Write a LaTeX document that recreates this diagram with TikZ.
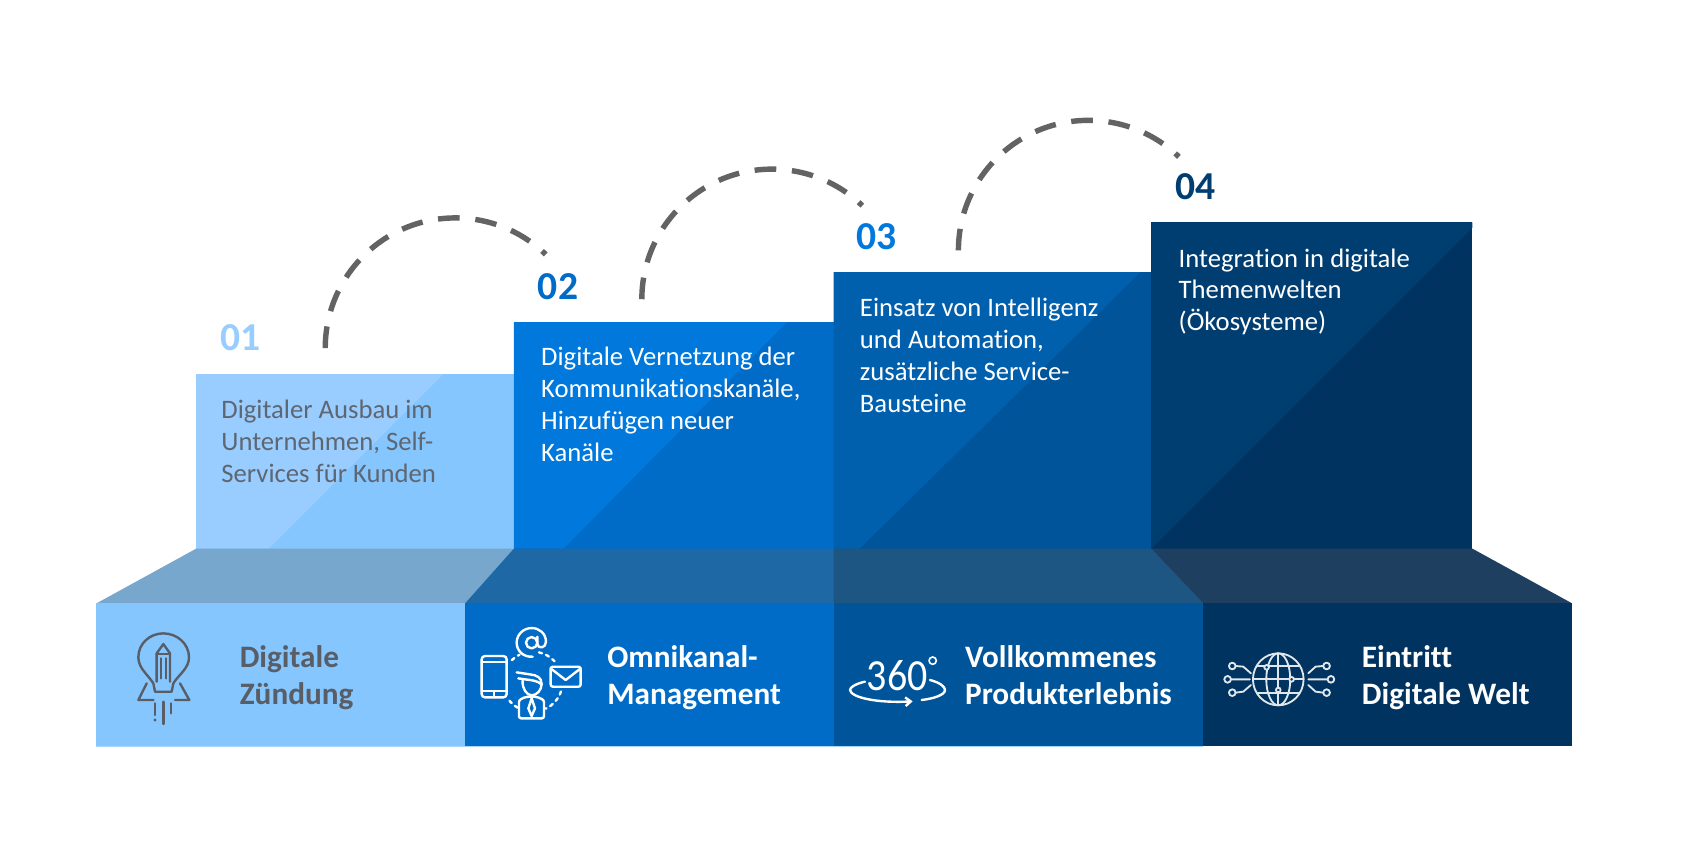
\documentclass[tikz,border=0pt]{standalone}
\usepackage{fontspec}
\setmainfont{Carlito}[Ligatures=CommonOff]
\usetikzlibrary{arrows.meta}
\definecolor{sa}{HTML}{85C6FF}\definecolor{sal}{HTML}{99CDFF}
\definecolor{sb}{HTML}{006CC8}\definecolor{sbl}{HTML}{0078DC}
\definecolor{sc}{HTML}{00549A}\definecolor{scl}{HTML}{0060AE}
\definecolor{sd}{HTML}{00335F}\definecolor{sdl}{HTML}{003E72}
\definecolor{ta}{HTML}{78A7CE}\definecolor{tb}{HTML}{1F68A6}
\definecolor{tc}{HTML}{1E5683}\definecolor{td}{HTML}{1E3F60}
\definecolor{graytxt}{HTML}{5E6672}\definecolor{grayb}{HTML}{595D66}
\definecolor{arcgray}{HTML}{636363}\definecolor{rim}{HTML}{A8D6FF}
\tikzset{
  num/.style={anchor=west,inner sep=0pt,font=\fontsize{36.5}{36.5}\selectfont\bfseries},
  body/.style={anchor=north west,inner sep=0pt,align=left,font=\fontsize{24.6}{29.4}\selectfont,text=white},
  band/.style={anchor=north west,inner sep=0pt,align=left,font=\fontsize{28.8}{34.5}\selectfont\bfseries,text=white},
  hop/.style={draw=arcgray,line width=5pt,dash pattern=on 20pt off 14.5pt},
  ico/.style={line width=2.2pt,line cap=round,line join=round},
}
\begin{document}
\begin{tikzpicture}[x=1pt,y=-1pt]
\useasboundingbox (0,0) rectangle (1568,784);
% steps
\fill[sa] (181,345) rectangle (474.5,506);
\fill[sal] (181,345) -- (409,345) -- (248,506) -- (181,506) -- cycle;
\fill[sb] (474,297) rectangle (769.5,506);
\fill[sbl] (474,297) -- (726,297) -- (520,506) -- (474,506) -- cycle;
\fill[sc] (769,251) rectangle (1062.5,506);
\fill[scl] (769,251) -- (1052,251) -- (793,506) -- (769,506) -- cycle;
\fill[sd] (1062,205) rectangle (1358,506);
\fill[sdl] (1062,205) -- (1358,205) -- (1358,210) -- (1062,506) -- cycle;
% top faces
\fill[ta] (181,506) -- (474.5,506) -- (429.5,556.5) -- (89,556.5) -- cycle;
\fill[tb] (474,506) -- (769.5,506) -- (769.5,556.5) -- (429,556.5) -- cycle;
\fill[tc] (769,506) -- (1062.5,506) -- (1110.5,556.5) -- (769,556.5) -- cycle;
\fill[td] (1062,506) -- (1358,506) -- (1450,556.5) -- (1110,556.5) -- cycle;
% front band
\fill[rim] (89,687) rectangle (1110,689);
\fill[sa] (89,556) rectangle (429.5,688);
\fill[sb] (429,556) rectangle (769.5,688);
\fill[sc] (769,556) rectangle (1110.5,688);
\fill[sd] (1110,556) rectangle (1450,688);
% arcs
\coordinate (hopa) at (300,321);
\coordinate (hopb) at (592,276);
\coordinate (hopc) at (884,231);
\draw[hop] (hopa) arc[start angle=180,end angle=46,x radius=120,y radius=-120];
\draw[hop] (hopb) arc[start angle=180,end angle=46,x radius=120,y radius=-120];
\draw[hop] (hopc) arc[start angle=180,end angle=46,x radius=120,y radius=-120];
% numbers
\node[num,text=sal] (na) at (203,311) {01};
\node[num,text=sb] (nb) at (496,264) {02};
\node[num,text=sbl] (nc) at (790,218) {03};
\node[num,text=sdl] (nd) at (1084,172) {04};
% step texts
\node[body,text=graytxt] (ba) at (204,369) {Digitaler Ausbau im\\Unternehmen, Self-\\Services für Kunden};
\node[body] (bb) at (499,320) {Digitale Vernetzung der\\Kommunikationskanäle,\\Hinzufügen neuer\\Kanäle};
\node[body] (bc) at (793,275) {Einsatz von Intelligenz\\und Automation,\\zusätzliche Service-\\Bausteine};
\node[body] (bd) at (1087,229) {Integration in digitale\\Themenwelten\\(Ökosysteme)};
% band texts
\node[band,text=grayb] (la) at (221,595) {Digitale\\Zündung};
\node[band] (lb) at (560,595) {Omnikanal-\\Management};
\node[band] (lc) at (890,595) {Vollkommenes\\Produkterlebnis};
\node[band] (ld) at (1256,595) {Eintritt\\Digitale Welt};
% icon 1
\begin{scope}[shift={(110.7,571.9)},x=.3074pt,y=-.3074pt,ico,draw=grayb]
\draw (105,215) -- (100,190) .. controls (85,165) and (55,145) .. (55,112) .. controls (55,70) and (90,40) .. (130,40) .. controls (170,40) and (207,70) .. (207,112) .. controls (207,145) and (175,165) .. (160,190) -- (155,215) -- cycle;
\draw (110,185) -- (110,100) -- (130,72) -- (150,100) -- (150,185);
\draw (110,102) -- (150,102) (123,115) -- (123,175) (138,115) -- (138,175);
\draw (80,190) -- (55,240) -- (100,240);
\draw (180,190) -- (208,240) -- (165,240);
\draw (105,250) -- (105,285) (130,245) -- (130,312) (153,250) -- (153,280);
\fill[grayb] (105,300) circle[radius=5];
\end{scope}
% icon 2
\begin{scope}[shift={(433.5,571.9)},x=.3074pt,y=-.3074pt,ico,draw=white]
\draw[rounded corners=3pt] (35,108) rectangle (110,232);
\draw (35,125) -- (110,125) (35,212) -- (110,212) (72,212) -- (72,232);
\draw (185,68) circle[radius=17];
\draw (202,50) -- (202,72) .. controls (204,88) and (228,84) .. (228,66) .. controls (228,40) and (208,24) .. (185,24) .. controls (160,24) and (140,44) .. (140,68) .. controls (140,92) and (160,112) .. (188,110);
\foreach \sa/\sb in {226/244,282/317,19/64,120/145}{
  \draw[dash pattern=on 3pt off 4pt] ([shift={(188,185)}]\sa:90) arc[start angle=\sa,end angle=\sb,radius=90];}
\draw[rounded corners=2pt] (242,140) rectangle (332,200);
\draw (242,145) -- (287,180) -- (332,145);
\draw (140,157) -- (180,163) .. controls (200,165) and (215,172) .. (215,192);
\draw (145,175) -- (165,178) .. controls (185,180) and (205,183) .. (213,192);
\draw (158,182) .. controls (156,205) and (170,226) .. (185,226) .. controls (200,226) and (215,210) .. (215,192);
\draw[rounded corners=2pt] (147,295) -- (147,240) -- (168,230) -- (200,230) -- (222,240) -- (222,295) -- cycle;
\draw (185,235) -- (175,265) -- (185,288) -- (195,265) -- cycle;
\end{scope}
% icon 3
\begin{scope}[shift={(774.8,590.3)},x=.3074pt,y=-.3074pt,ico,draw=white]
\node[inner sep=0pt,text=white,xscale=.9,font=\fontsize{41}{41}\selectfont] (deg) at (172,108) {360};
\draw[line width=1.5pt] (278,62) circle[radius=11];
\draw[-{Straight Barb[length=5pt,width=8pt]}] (75,125) .. controls (45,132) and (30,142) .. (30,150) .. controls (32,172) and (110,190) .. (218,184);
\draw (270,120) .. controls (300,128) and (315,140) .. (315,150) .. controls (315,165) and (280,176) .. (245,180);
\end{scope}
% icon 4
\begin{scope}[shift={(1120.6,590.3)},x=.3074pt,y=-.3074pt,ico,draw=white!88!sd,line width=1.7pt]
\draw (190,118) circle[x radius=76,y radius=78];
\draw (190,118) circle[x radius=36,y radius=78];
\draw (190,40) -- (190,196);
\draw (114,118) -- (266,118);
\draw (128,78) -- (252,78) (128,158) -- (252,158);
\foreach \cx/\cy in {155/82,230/118,190/150}{\filldraw[fill=sd] (\cx,\cy) circle[radius=7];}
\foreach \cx/\cy in {52/78,38/118,52/158,335/78,348/118,335/158}{\draw (\cx,\cy) circle[radius=10];}
\draw (62,78) -- (85,80) -- (108,100) (48,118) -- (105,118) (62,158) -- (85,155) -- (108,135);
\draw (325,78) -- (302,80) -- (280,100) (338,118) -- (280,118) (325,158) -- (302,155) -- (280,135);
\end{scope}
\end{tikzpicture}
\end{document}
